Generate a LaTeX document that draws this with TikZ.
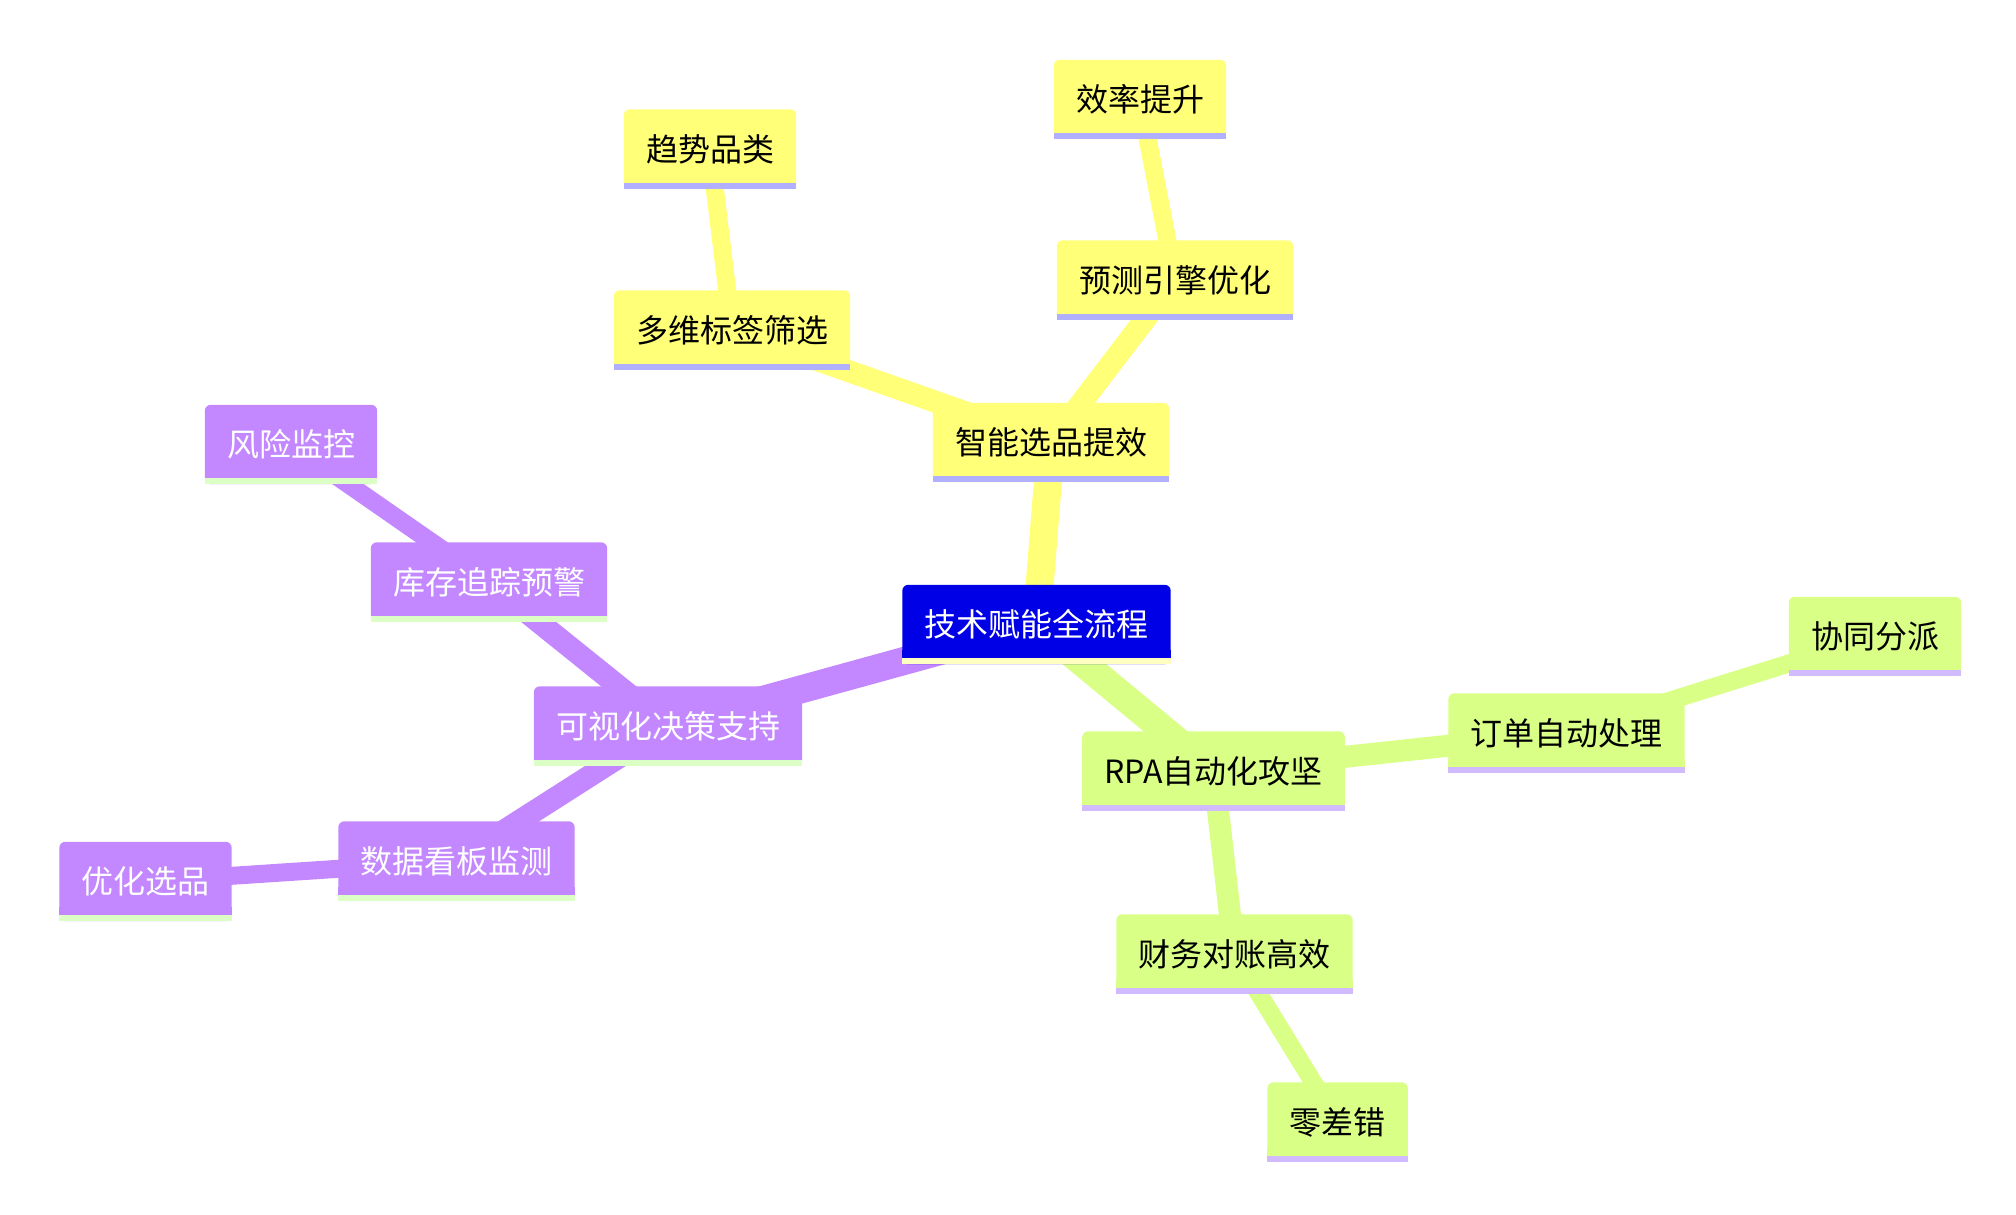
\documentclass[tikz,border=0pt]{standalone}
\usepackage{fontspec}
\newfontfamily\cjkfont{Noto Sans CJK SC}
\definecolor{ylw}{HTML}{FFFF78}
\definecolor{ylwline}{HTML}{B0B0FF}
\definecolor{grn}{HTML}{D9FF87}
\definecolor{grnline}{HTML}{D2BAFF}
\definecolor{prp}{HTML}{C387FF}
\definecolor{prpline}{HTML}{DCFFC6}
\definecolor{rootc}{HTML}{0000E6}
\definecolor{rootline}{HTML}{FFFFC2}
\pgfdeclarelayer{edgelayer}
\pgfdeclarelayer{boxlayer}
\pgfsetlayers{edgelayer,boxlayer,main}
\tikzset{
  mmnode/.style={rectangle, inner xsep=22pt, inner ysep=0pt, minimum height=79pt,
    text height=28pt, text depth=4pt, font=\cjkfont\fontsize{32}{38}\selectfont},
  darktext/.style={mmnode, text=black},
  lighttext/.style={mmnode, text=white},
  eone/.style={line width=28pt},
  etwo/.style={line width=22pt},
  ethree/.style={line width=18pt},
}
\newcommand\mmbox[3]{%
  \begin{pgfonlayer}{boxlayer}
    \fill[#2, rounded corners=6pt] (#1.south west) rectangle (#1.north east);
    \fill[#2] (#1.south west) rectangle ([yshift=14pt]#1.south east);
    \fill[#3] (#1.south west) rectangle ([yshift=6pt]#1.south east);
  \end{pgfonlayer}}
\begin{document}
\begin{tikzpicture}[x=1pt, y=-1pt]
\useasboundingbox (0,0) rectangle (2016,1215);
% nodes
\node[lighttext] (c) at (1036.5,624.5) {技术赋能全流程};
\node[darktext] (a) at (1051,442.5) {智能选品提效};
\node[darktext] (a1) at (732,330) {多维标签筛选};
\node[darktext] (a11) at (710,149) {趋势品类};
\node[darktext] (a2) at (1175,280) {预测引擎优化};
\node[darktext] (a21) at (1140,99.5) {效率提升};
\node[darktext] (b) at (1213.5,771) {RPA自动化攻坚};
\node[darktext] (b1) at (1566.5,733) {订单自动处理};
\node[darktext] (b11) at (1875,636.5) {协同分派};
\node[darktext] (b2) at (1234.5,954) {财务对账高效};
\node[darktext] (b21) at (1337.6,1122) {零差错};
\node[lighttext] (d) at (668,726) {可视化决策支持};
\node[lighttext] (d1) at (489,582) {库存追踪预警};
\node[lighttext] (d11) at (291,444.5) {风险监控};
\node[lighttext] (d2) at (456.5,861) {数据看板监测};
\node[lighttext] (d21) at (145.5,881.5) {优化选品};
% boxes
\mmbox{c}{rootc}{rootline}
\mmbox{a}{ylw}{ylwline}
\mmbox{a1}{ylw}{ylwline}
\mmbox{a11}{ylw}{ylwline}
\mmbox{a2}{ylw}{ylwline}
\mmbox{a21}{ylw}{ylwline}
\mmbox{b}{grn}{grnline}
\mmbox{b1}{grn}{grnline}
\mmbox{b11}{grn}{grnline}
\mmbox{b2}{grn}{grnline}
\mmbox{b21}{grn}{grnline}
\mmbox{d}{prp}{prpline}
\mmbox{d1}{prp}{prpline}
\mmbox{d11}{prp}{prpline}
\mmbox{d2}{prp}{prpline}
\mmbox{d21}{prp}{prpline}
% edges
\begin{pgfonlayer}{edgelayer}
\draw[eone, ylw] (c.center) -- (a.center);
\draw[eone, grn] (c.center) -- (b.center);
\draw[eone, prp] (c.center) -- (d.center);
\draw[etwo, ylw] (a.center) -- (a1.center);
\draw[etwo, ylw] (a.center) -- (a2.center);
\draw[ethree, ylw] (a1.center) -- (a11.center);
\draw[ethree, ylw] (a2.center) -- (a21.center);
\draw[etwo, grn] (b.center) -- (b1.center);
\draw[etwo, grn] (b.center) -- (b2.center);
\draw[ethree, grn] (b1.center) -- (b11.center);
\draw[ethree, grn] (b2.center) -- (b21.center);
\draw[etwo, prp] (d.center) -- (d1.center);
\draw[etwo, prp] (d.center) -- (d2.center);
\draw[ethree, prp] (d1.center) -- (d11.center);
\draw[ethree, prp] (d2.center) -- (d21.center);
\end{pgfonlayer}
\end{tikzpicture}
\end{document}
